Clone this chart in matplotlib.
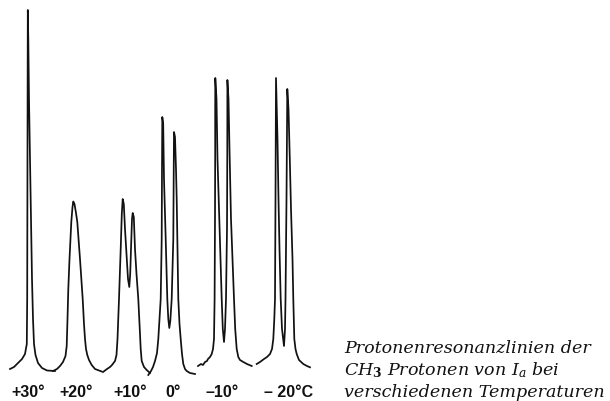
import matplotlib

matplotlib.use("Agg")
import matplotlib.pyplot as plt

plt.rcParams["mathtext.fontset"] = "dejavuserif"

# Kurvenpunkte: Position auf dem Schreiberpapier, Intensitaet ueber der Grundlinie
x_p30 = [10, 14, 18, 22, 25, 26.8, 27.2, 27.4, 27.6, 27.8, 28.3, 29, 30, 31, 32, 33, 34, 35.5, 38, 42, 47, 55]
i_p30 = [2, 4, 8, 12, 17, 27, 72, 172, 272, 361, 332, 272, 212, 152, 92, 52, 27, 16, 8, 3, 0.5, 0]

x_p20 = [53, 57, 60, 63, 65.5, 66.7, 67.5, 68.3, 69.5, 71.3, 72.5, 73.3, 74.5, 76, 77.3, 80, 82.7, 84, 85,
         86, 87.3, 89, 91.7, 95, 101.7]
i_p20 = [0, 2, 5, 9, 15, 25, 52, 82, 112, 149, 164, 169.5, 167, 158, 149, 112, 72, 47, 32, 22, 16, 11, 6, 2, -0.5]

x_p10 = [103, 107, 110, 112, 115, 116.5, 117.5, 119, 120.7, 121.8, 122.7, 123.8, 125, 126.5, 128, 129.3, 130.2,
         131, 132, 132.7, 133.8, 135, 136.5, 138.3, 140, 140.7, 141.7, 144, 146.7, 150]
i_p10 = [-1, 2, 4, 6, 10, 16, 32, 72, 122, 157, 172, 167, 142, 117, 92, 84, 97, 122, 152, 158, 154, 122, 97,
         72, 37, 22, 10, 4, 1, -2]

x_0 = [148.3, 151, 153, 155, 157, 158.3, 159.5, 160.7, 161.7, 162, 162.3, 163.2, 164, 165.7, 167.3, 168.3, 169.3,
       170.3, 171.7, 173.3, 173.8, 174, 175, 176, 176.7, 177.5, 178.3, 179.5, 180.7, 182, 183.3, 185, 186.7,
       190, 195]
i_0 = [-4, 0, 4, 10, 18, 32, 52, 72, 132, 202, 254, 247, 192, 132, 72, 52, 43, 50, 72, 132, 212, 239, 234, 202,
       172, 122, 72, 47, 32, 17, 7, 2, 0, -2, -3]

x_m10 = [198, 201, 203, 205, 207, 208, 210, 211.7, 213, 214, 214.6, 215, 215.2, 215.2, 215.3, 216.5, 217.5,
         219.3, 220.5, 221.7, 222.8, 224, 225, 226, 227, 227.3, 227.4, 228.5, 229.5, 231, 232.5, 234, 235.2,
         236.7, 238.3, 240, 243.3, 247, 251.7]
i_m10 = [5, 7, 6, 9, 10, 12, 14, 17, 22, 32, 72, 152, 222, 260, 293, 272, 212, 152, 112, 72, 42, 29, 42, 72,
         142, 222, 291, 272, 222, 152, 112, 72, 42, 22, 14, 11, 9, 7, 5]

x_m20 = [256.7, 260, 264, 267, 270, 272, 273.3, 274.3, 275, 275.5, 276, 277.5, 278.5, 279.5, 280.7, 282, 284,
         285, 285.5, 286.5, 287.3, 288.5, 289.8, 291, 292.5, 293.3, 294.3, 295.5, 296.7, 299, 303.3, 307, 310]
i_m20 = [7, 9, 12, 14, 17, 22, 32, 52, 72, 172, 293, 232, 172, 122, 72, 42, 25, 42, 72, 172, 282, 262, 212,
         162, 112, 72, 32, 22, 17, 11, 7, 5, 3.7]

temperaturen = ["+30°", "+20°", "+10°", "0°", "\u201310°", "\u2013 20°C"]
label_x = [28.5, 76.5, 130, 173, 222, 289]

caption = [
    "Protonenresonanzlinien der",
    r"$CH_{\mathbf{3}}$ Protonen von $I_{a}$ bei",
    "verschiedenen Temperaturen",
]

fig = plt.figure(figsize=(6.10, 4.02), dpi=100)
ax = fig.add_axes([0, 0, 1, 1])
ax.set_xlim(0, 610)
ax.set_ylim(-30, 372)
ax.axis("off")

kurven = [(x_p30, i_p30), (x_p20, i_p20), (x_p10, i_p10), (x_0, i_0), (x_m10, i_m10), (x_m20, i_m20)]
for xs, ys in kurven:
    ax.plot(xs, ys, color="#111111", lw=1.25, solid_joinstyle="round")

for t, xc in zip(temperaturen, label_x):
    ax.text(xc, -25, t, ha="center", va="baseline", fontsize=11.5, fontweight="bold",
            family="Liberation Sans", color="#111111")

for k, line in enumerate(caption):
    ax.text(344, 19 - 22 * k, line, ha="left", va="baseline", fontsize=12.6,
            family="DejaVu Serif", style="italic", color="#111111")

fig.savefig("out.png", dpi=100)
